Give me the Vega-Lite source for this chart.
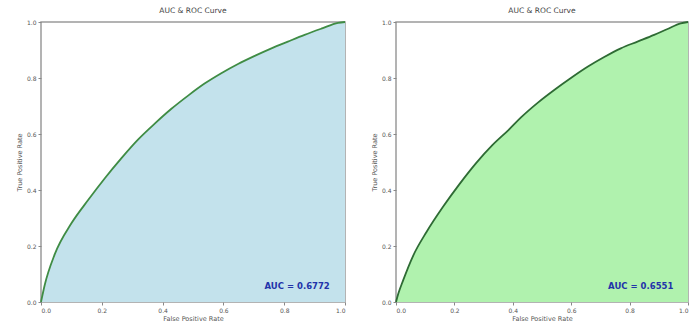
{
"$schema": "https://vega.github.io/schema/vega-lite/v6.json",
"background": "white",
"padding": {"left": 15, "top": 6, "right": 4, "bottom": 0},
"bounds": "flush",
"spacing": 51,
"datasets": {
"m1": [
{"fpr":0,"tpr":0},{"fpr":0.012,"tpr":0.06},{"fpr":0.045,"tpr":0.17},{"fpr":0.1,"tpr":0.281},{"fpr":0.155,"tpr":0.364},{"fpr":0.21,"tpr":0.442},{"fpr":0.264,"tpr":0.513},{"fpr":0.319,"tpr":0.58},{"fpr":0.375,"tpr":0.638},{"fpr":0.429,"tpr":0.69},{"fpr":0.485,"tpr":0.738},{"fpr":0.538,"tpr":0.78},{"fpr":0.593,"tpr":0.817},{"fpr":0.648,"tpr":0.85},{"fpr":0.703,"tpr":0.879},{"fpr":0.758,"tpr":0.906},{"fpr":0.812,"tpr":0.93},{"fpr":0.867,"tpr":0.954},{"fpr":0.922,"tpr":0.976},{"fpr":0.977,"tpr":0.997},{"fpr":1,"tpr":1}
],
"m2": [
{"fpr":0,"tpr":0},{"fpr":0.008,"tpr":0.03},{"fpr":0.025,"tpr":0.079},{"fpr":0.059,"tpr":0.166},{"fpr":0.105,"tpr":0.251},{"fpr":0.161,"tpr":0.34},{"fpr":0.218,"tpr":0.422},{"fpr":0.275,"tpr":0.497},{"fpr":0.33,"tpr":0.56},{"fpr":0.386,"tpr":0.615},{"fpr":0.429,"tpr":0.66},{"fpr":0.486,"tpr":0.712},{"fpr":0.543,"tpr":0.758},{"fpr":0.599,"tpr":0.8},{"fpr":0.656,"tpr":0.84},{"fpr":0.713,"tpr":0.875},{"fpr":0.77,"tpr":0.906},{"fpr":0.827,"tpr":0.93},{"fpr":0.884,"tpr":0.954},{"fpr":0.93,"tpr":0.975},{"fpr":0.975,"tpr":0.995},{"fpr":1,"tpr":1}
],
"a1": [{"auc": "AUC = 0.6772"}],
"a2": [{"auc": "AUC = 0.6551"}]
},
"config": {
"view": {"stroke": "#9a9a9a", "strokeWidth": 1.5},
"axis": {"grid": false, "domain": false, "labelFontSize": 6, "titleFontSize": 6.5, "labelColor": "#555", "titleColor": "#555", "tickColor": "#888", "tickSize": 3, "labelPadding": 2, "titlePadding": 4, "labelFont": "DejaVu Sans", "titleFont": "DejaVu Sans", "titleFontWeight": "normal"},
"title": {"fontSize": 7.5, "font": "DejaVu Sans", "fontWeight": "normal", "color": "#444", "offset": 4}
},
"hconcat": [
{
"width": 304, "height": 280,
"title": "AUC & ROC Curve",
"layer": [
{"data": {"name": "m1"},
 "mark": {"type": "area", "color": "#c3e2ec", "opacity": 1, "interpolate": "monotone"},
 "encoding": {
  "x": {"field": "fpr", "type": "quantitative", "scale": {"domain": [0, 1], "nice": false}, "axis": {"title": "False Positive Rate", "values": [0, 0.2, 0.4, 0.6, 0.8, 1], "format": ".1f", "titlePadding": 2}},
  "y": {"field": "tpr", "type": "quantitative", "scale": {"domain": [0, 1], "nice": false}, "axis": {"title": "True Positive Rate", "values": [0, 0.2, 0.4, 0.6, 0.8, 1], "format": ".1f"}}
 }},
{"data": {"name": "m1"},
 "mark": {"type": "line", "color": "#3f8c44", "strokeWidth": 1.8, "interpolate": "monotone"},
 "encoding": {
  "x": {"field": "fpr", "type": "quantitative"},
  "y": {"field": "tpr", "type": "quantitative"}
 }},
{"data": {"name": "a1"},
 "mark": {"type": "text", "align": "right", "baseline": "middle", "fontSize": 8.5, "fontWeight": "bold", "font": "DejaVu Sans", "color": "#2233aa"},
 "encoding": {"x": {"datum": 0.95, "type": "quantitative"}, "y": {"datum": 0.057, "type": "quantitative"}, "text": {"field": "auc", "type": "nominal"}}}
]
},
{
"width": 292, "height": 280,
"title": "AUC & ROC Curve",
"layer": [
{"data": {"name": "m2"},
 "mark": {"type": "area", "color": "#b0f2ae", "opacity": 1, "interpolate": "monotone"},
 "encoding": {
  "x": {"field": "fpr", "type": "quantitative", "scale": {"domain": [0, 1], "nice": false}, "axis": {"title": "False Positive Rate", "values": [0, 0.2, 0.4, 0.6, 0.8, 1], "format": ".1f", "titlePadding": 2}},
  "y": {"field": "tpr", "type": "quantitative", "scale": {"domain": [0, 1], "nice": false}, "axis": {"title": "True Positive Rate", "values": [0, 0.2, 0.4, 0.6, 0.8, 1], "format": ".1f"}}
 }},
{"data": {"name": "m2"},
 "mark": {"type": "line", "color": "#2e6b34", "strokeWidth": 1.8, "interpolate": "monotone"},
 "encoding": {
  "x": {"field": "fpr", "type": "quantitative"},
  "y": {"field": "tpr", "type": "quantitative"}
 }},
{"data": {"name": "a2"},
 "mark": {"type": "text", "align": "right", "baseline": "middle", "fontSize": 8.5, "fontWeight": "bold", "font": "DejaVu Sans", "color": "#2233aa"},
 "encoding": {"x": {"datum": 0.95, "type": "quantitative"}, "y": {"datum": 0.057, "type": "quantitative"}, "text": {"field": "auc", "type": "nominal"}}}
]
}
]
}
